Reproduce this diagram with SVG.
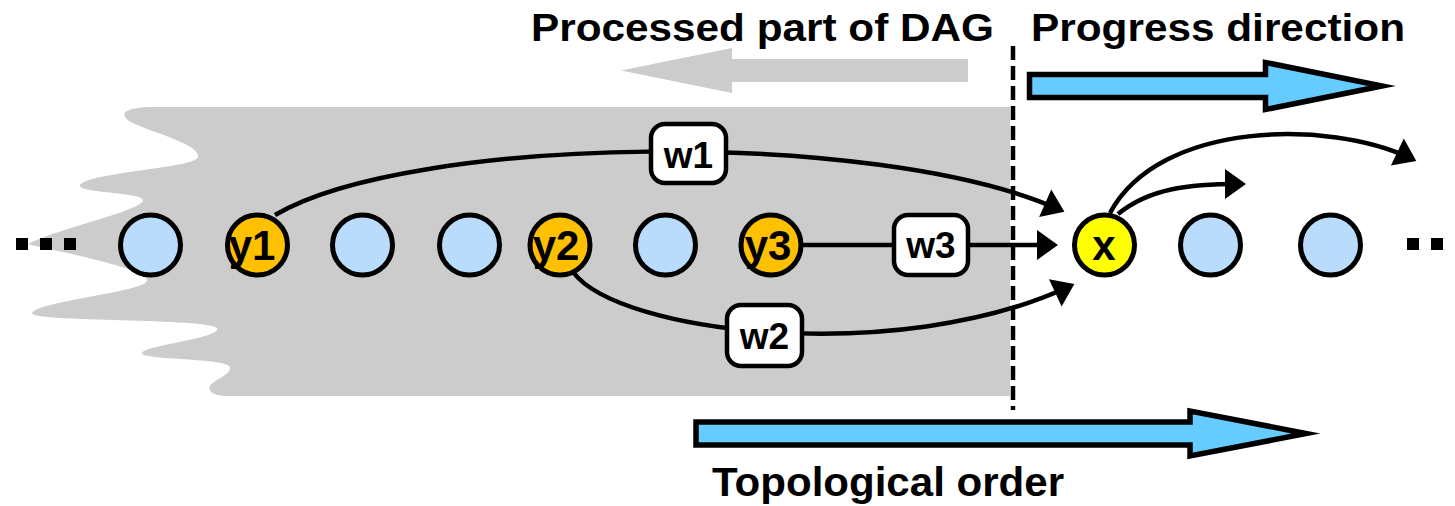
<svg xmlns="http://www.w3.org/2000/svg" width="1455" height="506" viewBox="0 0 1455 506">
  <defs>
    <style>
      .lbl { font-family: "Liberation Sans", Arial, sans-serif; font-weight: bold; fill: #000; }
      .node { stroke: #000; stroke-width: 5; }
      .plain { fill: #b9dcfd; }
      .pred { fill: #ffc000; }
      .cur { fill: #ffff00; }
      .edge { fill: none; stroke: #000; stroke-width: 4.5; }
      .wbox { fill: #fff; stroke: #000; stroke-width: 4.5; }
      .big { fill: #66ccff; stroke: #000; stroke-width: 5.5; stroke-linejoin: miter; stroke-miterlimit: 10; }
      .dot { fill: #000; }
    </style>
    <marker id="ah" markerUnits="userSpaceOnUse" markerWidth="24" markerHeight="32" refX="14" refY="15" orient="auto" overflow="visible">
      <path d="M0,0 L21,15 L0,30 z" fill="#000"/>
    </marker>
  </defs>

  <!-- processed region -->
  <path id="processed" fill="#cccccc" d="M1010,107 L150,107 C120,108 118,116 135,124 C160,135 200,145 198,157 C196,168 90,172 80,185 C75,193 140,192 143,200 C145,210 60,228 28,244 C60,252 145,268 147,280 C148,292 40,300 32,313 C30,322 210,318 217,328 C222,338 145,345 142,353 C140,360 228,358 230,367 C232,376 205,382 210,390 C212,395 220,396 230,396 L1010,396 Z"/>

  <!-- gray arrow -->
  <polygon id="processed-arrow" fill="#cccccc" points="968,59 732,59 732,48 621,70.5 732,93 732,82 968,82"/>

  <!-- frontier dashed line -->
  <line id="frontier" x1="1013" y1="46" x2="1013" y2="410" stroke="#000" stroke-width="4.5" stroke-dasharray="14 6"/>

  <!-- big blue arrows -->
  <polygon id="progress-arrow" class="big" points="1029.5,74.5 1265.5,74.5 1265.5,62.5 1382,86 1265.5,109.5 1265.5,97.5 1029.5,97.5"/>
  <polygon id="topo-arrow" class="big" points="696,422 1190,422 1190,411 1306,433.5 1190,456 1190,445 696,445"/>

  <!-- titles -->
  <text class="lbl" x="531" y="41" font-size="38" textLength="463" lengthAdjust="spacingAndGlyphs">Processed part of DAG</text>
  <text class="lbl" x="1031" y="41" font-size="38" textLength="374" lengthAdjust="spacingAndGlyphs">Progress direction</text>
  <text class="lbl" x="712" y="496" font-size="40" textLength="352" lengthAdjust="spacingAndGlyphs">Topological order</text>

  <!-- ellipsis dots -->
  <g id="dots-left">
    <rect class="dot" x="16" y="238" width="12" height="12"/>
    <rect class="dot" x="40" y="238" width="12" height="12"/>
    <rect class="dot" x="64" y="238" width="12" height="12"/>
  </g>
  <g id="dots-right">
    <rect class="dot" x="1407" y="238" width="12" height="12"/>
    <rect class="dot" x="1431" y="238" width="12" height="12"/>
  </g>

  <!-- connectors -->
  <g id="connectors">
    <path class="edge" marker-end="url(#ah)" d="M275,215 C410,135 875,128 1058,209"/>
    <path class="edge" marker-end="url(#ah)" d="M801,245 L1051,245"/>
    <path class="edge" marker-end="url(#ah)" d="M573,272 C620,335 900,365 1068,287"/>
    <path class="edge" marker-end="url(#ah)" d="M1118,214 C1150,188 1190,184 1239,184"/>
    <path class="edge" marker-end="url(#ah)" d="M1110,213 C1160,120 1330,120 1410,158"/>
  </g>

  <!-- edge labels -->
  <g id="w1">
    <rect class="wbox" x="651" y="124" width="75" height="59" rx="14"/>
    <text class="lbl" x="688.5" y="168" font-size="37" text-anchor="middle">w1</text>
  </g>
  <g id="w3">
    <rect class="wbox" x="894" y="215" width="74" height="60" rx="14"/>
    <text class="lbl" x="931" y="258" font-size="37" text-anchor="middle">w3</text>
  </g>
  <g id="w2">
    <rect class="wbox" x="727" y="305" width="75" height="61" rx="14"/>
    <text class="lbl" x="764.5" y="349" font-size="37" text-anchor="middle">w2</text>
  </g>

  <!-- nodes -->
  <g id="n1"><circle class="node plain" cx="150.5" cy="245" r="30"/></g>
  <g id="y1"><circle class="node pred" cx="257.5" cy="245" r="30"/><text class="lbl" x="252" y="260" font-size="42" text-anchor="middle">y1</text></g>
  <g id="n3"><circle class="node plain" cx="362.5" cy="245" r="30"/></g>
  <g id="n4"><circle class="node plain" cx="469.5" cy="245" r="30"/></g>
  <g id="y2"><circle class="node pred" cx="560" cy="245" r="30"/><text class="lbl" x="556" y="260" font-size="42" text-anchor="middle">y2</text></g>
  <g id="n6"><circle class="node plain" cx="665.5" cy="245" r="30"/></g>
  <g id="y3"><circle class="node pred" cx="771" cy="245" r="30"/><text class="lbl" x="768" y="260" font-size="42" text-anchor="middle">y3</text></g>
  <g id="x"><circle class="node cur" cx="1104.5" cy="245" r="30"/><text class="lbl" x="1104" y="260" font-size="42" text-anchor="middle">x</text></g>
  <g id="n9"><circle class="node plain" cx="1210.5" cy="245" r="30"/></g>
  <g id="n10"><circle class="node plain" cx="1330.5" cy="245" r="30"/></g>
</svg>
